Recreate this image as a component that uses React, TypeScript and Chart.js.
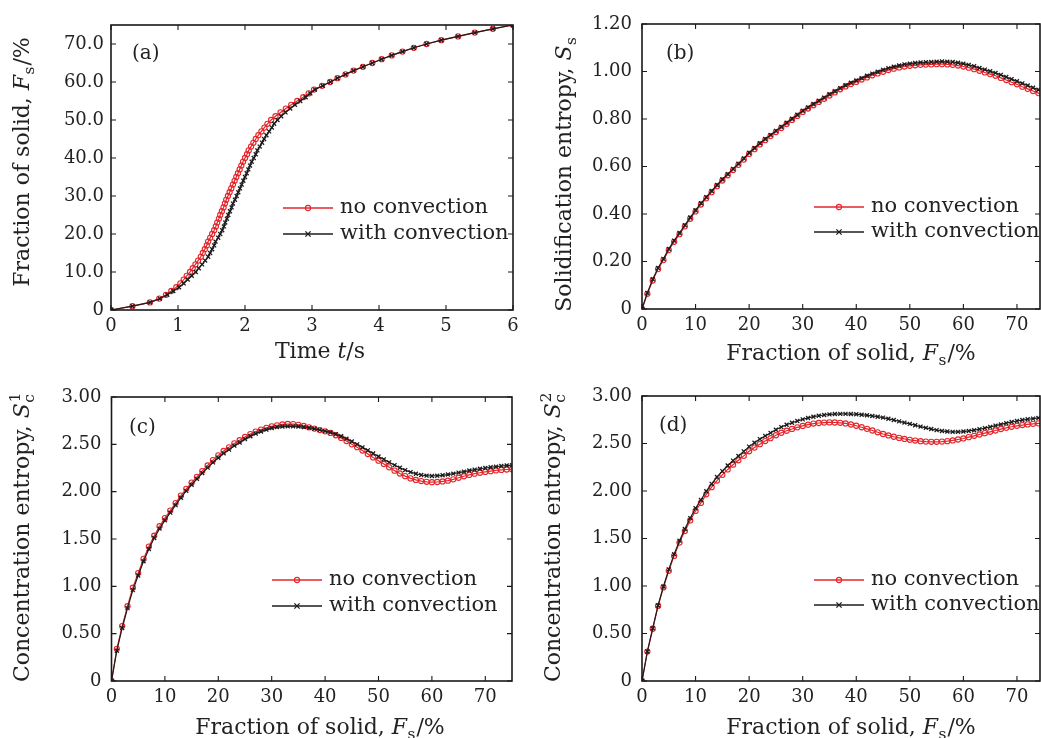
import { useEffect, useRef } from 'react';
import { Chart, registerables } from 'chart.js';

Chart.register(...registerables);

const FONT = '"DejaVu Serif", "Liberation Serif", serif';
const RED = '#e3262b';
const BLACK = '#1c1c1c';
const FRAME = '#1a1a1a';
const TEXT = '#222222';

// ---------- data ----------
const FS = [0, 1, 2, 3, 4, 5, 6, 7, 8, 9, 10, 11, 12, 13, 14, 15, 16, 17, 18, 19, 20, 21, 22, 23, 24, 25, 26, 27, 28, 29, 30, 31, 32, 33, 34, 35, 36, 37, 38, 39, 40, 41, 42, 43, 44, 45, 46, 47, 48, 49, 50, 51, 52, 53, 54, 55, 56, 57, 58, 59, 60, 61, 62, 63, 64, 65, 66, 67, 68, 69, 70, 71, 72, 73, 74, 75];

const T_NO = [0, 0.32, 0.58, 0.72, 0.82, 0.9, 0.975, 1.035, 1.085, 1.13,
  1.18, 1.22, 1.26, 1.3, 1.34, 1.37, 1.4, 1.43, 1.45, 1.48,
  1.51, 1.54, 1.565, 1.585, 1.61, 1.63, 1.655, 1.68, 1.7, 1.72,
  1.745, 1.77, 1.795, 1.82, 1.845, 1.87, 1.895, 1.92, 1.945, 1.97,
  2.0, 2.03, 2.055, 2.09, 2.125, 2.16, 2.2, 2.245, 2.29, 2.335,
  2.39, 2.455, 2.53, 2.61, 2.69, 2.78, 2.87, 2.95, 3.03, 3.15,
  3.27, 3.38, 3.5, 3.62, 3.76, 3.9, 4.04, 4.19, 4.35, 4.52,
  4.71, 4.93, 5.18, 5.43, 5.7, 6.0];

const T_WITH = [0, 0.32, 0.585, 0.73, 0.84, 0.93, 1.015, 1.085, 1.145, 1.205,
  1.265, 1.31, 1.36, 1.405, 1.45, 1.48, 1.51, 1.54, 1.56, 1.6,
  1.63, 1.66, 1.685, 1.705, 1.73, 1.75, 1.775, 1.8, 1.82, 1.85,
  1.875, 1.9, 1.925, 1.95, 1.975, 2.0, 2.025, 2.05, 2.075, 2.1,
  2.13, 2.16, 2.185, 2.22, 2.255, 2.285, 2.32, 2.36, 2.4, 2.435,
  2.485, 2.54, 2.605, 2.675, 2.745, 2.825, 2.905, 2.975, 3.045, 3.16,
  3.275, 3.38, 3.5, 3.62, 3.76, 3.9, 4.04, 4.19, 4.35, 4.52,
  4.71, 4.93, 5.18, 5.43, 5.7, 6.0];

const SS_NO = [0, 0.064, 0.12, 0.168, 0.206, 0.248, 0.283, 0.315, 0.348, 0.38,
  0.411, 0.44, 0.466, 0.492, 0.517, 0.541, 0.563, 0.585, 0.607, 0.629,
  0.653, 0.673, 0.693, 0.711, 0.728, 0.745, 0.762, 0.779, 0.796, 0.813,
  0.83, 0.844, 0.858, 0.872, 0.885, 0.899, 0.912, 0.925, 0.937, 0.947,
  0.956, 0.966, 0.975, 0.984, 0.992, 0.999, 1.006, 1.012, 1.017, 1.021,
  1.024, 1.026, 1.028, 1.029, 1.03, 1.031, 1.031, 1.03, 1.028, 1.025,
  1.021, 1.016, 1.01, 1.003, 0.996, 0.989, 0.982, 0.973, 0.964, 0.955,
  0.946, 0.936, 0.927, 0.918, 0.909, 0.9];

const SS_WITH = [0, 0.068, 0.125, 0.173, 0.211, 0.253, 0.288, 0.32, 0.353, 0.385,
  0.416, 0.445, 0.471, 0.497, 0.522, 0.546, 0.568, 0.59, 0.612, 0.634,
  0.658, 0.678, 0.698, 0.716, 0.733, 0.75, 0.767, 0.784, 0.801, 0.818,
  0.835, 0.849, 0.863, 0.877, 0.89, 0.904, 0.917, 0.93, 0.942, 0.953,
  0.962, 0.972, 0.982, 0.991, 0.999, 1.007, 1.014, 1.02, 1.025, 1.03,
  1.033, 1.036, 1.038, 1.039, 1.04, 1.041, 1.042, 1.041, 1.04, 1.037,
  1.033, 1.028, 1.022, 1.015, 1.008, 1.001, 0.994, 0.986, 0.977, 0.968,
  0.959, 0.95, 0.941, 0.932, 0.923, 0.915];

const SC1_NO = [0, 0.34, 0.58, 0.79, 0.985, 1.14, 1.29, 1.42, 1.535, 1.635,
  1.72, 1.8, 1.88, 1.958, 2.03, 2.095, 2.157, 2.218, 2.277, 2.333,
  2.383, 2.43, 2.468, 2.51, 2.543, 2.578, 2.608, 2.634, 2.655, 2.674,
  2.69, 2.7, 2.71, 2.715, 2.713, 2.706, 2.694, 2.68, 2.666, 2.651,
  2.637, 2.62, 2.596, 2.568, 2.535, 2.5, 2.47, 2.435, 2.398, 2.362,
  2.327, 2.292, 2.257, 2.222, 2.192, 2.164, 2.14, 2.124, 2.112, 2.104,
  2.1, 2.102, 2.108, 2.116, 2.13, 2.147, 2.163, 2.177, 2.19, 2.2,
  2.209, 2.216, 2.224, 2.23, 2.234, 2.238];

const SC1_WITH = [0, 0.32, 0.56, 0.77, 0.96, 1.115, 1.265, 1.395, 1.51, 1.61,
  1.697, 1.778, 1.858, 1.936, 2.008, 2.073, 2.135, 2.196, 2.254, 2.309,
  2.358, 2.405, 2.444, 2.486, 2.52, 2.555, 2.586, 2.613, 2.635, 2.655,
  2.672, 2.682, 2.688, 2.69, 2.69, 2.688, 2.683, 2.675, 2.665, 2.653,
  2.64, 2.626, 2.608, 2.586, 2.56, 2.53, 2.5, 2.468, 2.436, 2.403,
  2.372, 2.341, 2.31, 2.28, 2.253, 2.228, 2.206, 2.189, 2.176, 2.169,
  2.166, 2.168, 2.173, 2.181, 2.19, 2.201, 2.212, 2.223, 2.233, 2.242,
  2.25, 2.258, 2.265, 2.271, 2.276, 2.28];

const SC2_NO = [0, 0.31, 0.55, 0.79, 0.985, 1.16, 1.317, 1.457, 1.578, 1.69,
  1.79, 1.875, 1.965, 2.04, 2.11, 2.17, 2.227, 2.277, 2.323, 2.37,
  2.418, 2.457, 2.493, 2.526, 2.556, 2.587, 2.613, 2.634, 2.653, 2.67,
  2.685, 2.698, 2.71, 2.716, 2.72, 2.722, 2.721, 2.718, 2.711, 2.7,
  2.687, 2.671, 2.654, 2.637, 2.618, 2.6, 2.585, 2.571, 2.559, 2.548,
  2.539, 2.531, 2.524, 2.52, 2.518, 2.518, 2.52, 2.525, 2.532, 2.542,
  2.553, 2.567, 2.581, 2.595, 2.609, 2.623, 2.637, 2.652, 2.665, 2.676,
  2.686, 2.694, 2.701, 2.707, 2.712, 2.716];

const SC2_WITH = [0, 0.31, 0.555, 0.795, 0.995, 1.175, 1.335, 1.477, 1.6, 1.715,
  1.818, 1.905, 1.997, 2.075, 2.147, 2.209, 2.268, 2.32, 2.368, 2.417,
  2.467, 2.508, 2.546, 2.58, 2.612, 2.645, 2.673, 2.697, 2.718, 2.737,
  2.754, 2.769, 2.782, 2.792, 2.8, 2.806, 2.81, 2.812, 2.812, 2.81,
  2.808, 2.803, 2.797, 2.79, 2.782, 2.773, 2.76, 2.747, 2.733, 2.72,
  2.706, 2.692, 2.678, 2.665, 2.652, 2.641, 2.632, 2.626, 2.623, 2.623,
  2.626, 2.632, 2.64, 2.65, 2.662, 2.675, 2.688, 2.701, 2.714, 2.726,
  2.737, 2.747, 2.755, 2.762, 2.769, 2.775];

// ---------- ticks & labels ----------
const TIME_TICKS = [0, 1, 2, 3, 4, 5, 6];
const TIME_LABELS = ['0', '1', '2', '3', '4', '5', '6'];
const FS_TICKS = [0, 10, 20, 30, 40, 50, 60, 70];
const FS_LABELS = ['0', '10', '20', '30', '40', '50', '60', '70'];
const A_Y_TICKS = [0, 10, 20, 30, 40, 50, 60, 70];
const A_Y_LABELS = ['0', '10.0', '20.0', '30.0', '40.0', '50.0', '60.0', '70.0'];
const B_Y_TICKS = [0, 0.2, 0.4, 0.6, 0.8, 1.0, 1.2];
const B_Y_LABELS = ['0', '0.20', '0.40', '0.60', '0.80', '1.00', '1.20'];
const C_Y_TICKS = [0, 0.5, 1.0, 1.5, 2.0, 2.5, 3.0];
const C_Y_LABELS = ['0', '0.50', '1.00', '1.50', '2.00', '2.50', '3.00'];

const SERIES_LABELS = ['no convection', 'with convection'];
const PANEL_TAGS = ['(a)', '(b)', '(c)', '(d)'];

type Seg = { t: string; it?: boolean; sub?: string; sup?: string };
const TIME_TITLE: Seg[] = [{ t: 'Time ' }, { t: 't', it: true }, { t: '/s' }];
const FS_TITLE: Seg[] = [{ t: 'Fraction of solid, ' }, { t: 'F', it: true, sub: 's' }, { t: '/%' }];
const SS_TITLE: Seg[] = [{ t: 'Solidification entropy, ' }, { t: 'S', it: true, sub: 's' }];
const SC1_TITLE: Seg[] = [{ t: 'Concentration entropy, ' }, { t: 'S', it: true, sub: 'c', sup: '1' }];
const SC2_TITLE: Seg[] = [{ t: 'Concentration entropy, ' }, { t: 'S', it: true, sub: 'c', sup: '2' }];

// ---------- layout (page coordinates) ----------
type Panel = {
  box: { x: number; y: number; w: number; h: number };
  area: { l: number; t: number; r: number; b: number };
  xMin: number; xMax: number; yMin: number; yMax: number;
  xTicks: number[]; xLabels: string[]; yTicks: number[]; yLabels: string[];
  yPad: number;
  seriesX: number[][]; seriesY: number[][];
  xTitle: Seg[]; xTitleCx: number; xTitleBase: number;
  yTitle: Seg[]; yTitleCy: number; yTitleBase: number;
  legendX: number; legendY: number; legendGap: number;
  tag: string; tagX: number; tagBase: number;
};

const PANELS: Panel[] = [
  {
    box: { x: 0, y: 0, w: 530, h: 372 }, area: { l: 111, t: 25, r: 513, b: 310 },
    xMin: 0, xMax: 6, yMin: 0, yMax: 75,
    xTicks: TIME_TICKS, xLabels: TIME_LABELS, yTicks: A_Y_TICKS, yLabels: A_Y_LABELS, yPad: 7,
    seriesX: [T_NO, T_WITH], seriesY: [FS, FS],
    xTitle: TIME_TITLE, xTitleCx: 320, xTitleBase: 358,
    yTitle: FS_TITLE, yTitleCy: 162, yTitleBase: 29,
    legendX: 283, legendY: 208, legendGap: 26,
    tag: PANEL_TAGS[0], tagX: 132, tagBase: 59,
  },
  {
    box: { x: 530, y: 0, w: 511, h: 372 }, area: { l: 642, t: 24, r: 1040, b: 309 },
    xMin: 0, xMax: 74.3, yMin: 0, yMax: 1.2,
    xTicks: FS_TICKS, xLabels: FS_LABELS, yTicks: B_Y_TICKS, yLabels: B_Y_LABELS, yPad: 10,
    seriesX: [FS, FS], seriesY: [SS_NO, SS_WITH],
    xTitle: FS_TITLE, xTitleCx: 851, xTitleBase: 360,
    yTitle: SS_TITLE, yTitleCy: 174, yTitleBase: 571,
    legendX: 814, legendY: 207, legendGap: 25,
    tag: PANEL_TAGS[1], tagX: 666, tagBase: 59,
  },
  {
    box: { x: 0, y: 372, w: 530, h: 366 }, area: { l: 111.5, t: 397, r: 512, b: 681 },
    xMin: 0, xMax: 75, yMin: 0, yMax: 3,
    xTicks: FS_TICKS, xLabels: FS_LABELS, yTicks: C_Y_TICKS, yLabels: C_Y_LABELS, yPad: 10,
    seriesX: [FS, FS], seriesY: [SC1_NO, SC1_WITH],
    xTitle: FS_TITLE, xTitleCx: 320, xTitleBase: 734,
    yTitle: SC1_TITLE, yTitleCy: 537, yTitleBase: 29,
    legendX: 272, legendY: 580, legendGap: 26,
    tag: PANEL_TAGS[2], tagX: 129, tagBase: 433,
  },
  {
    box: { x: 530, y: 372, w: 511, h: 366 }, area: { l: 642, t: 396, r: 1040, b: 681 },
    xMin: 0, xMax: 74.3, yMin: 0, yMax: 3,
    xTicks: FS_TICKS, xLabels: FS_LABELS, yTicks: C_Y_TICKS, yLabels: C_Y_LABELS, yPad: 10,
    seriesX: [FS, FS], seriesY: [SC2_NO, SC2_WITH],
    xTitle: FS_TITLE, xTitleCx: 851, xTitleBase: 734,
    yTitle: SC2_TITLE, yTitleCy: 537, yTitleBase: 560,
    legendX: 814, legendY: 580, legendGap: 25,
    tag: PANEL_TAGS[3], tagX: 659, tagBase: 431,
  },
];

const TICK_SIZE = 18;
const TITLE_SIZE = 22;
const LEGEND_SIZE = 21;
const TAG_SIZE = 20;

function segFont(size: number, it?: boolean) {
  return `${it ? 'italic ' : ''}${size}px ${FONT}`;
}

function richWidth(ctx: CanvasRenderingContext2D, segs: Seg[], size: number) {
  let w = 0;
  for (const s of segs) {
    ctx.font = segFont(size, s.it);
    w += ctx.measureText(s.t).width;
    if (s.sub || s.sup) {
      ctx.font = segFont(size * 0.7);
      const a = s.sub ? ctx.measureText(s.sub).width : 0;
      const b = s.sup ? ctx.measureText(s.sup).width : 0;
      w += Math.max(a, b) + 1.5;
    }
  }
  return w;
}

function drawRich(ctx: CanvasRenderingContext2D, segs: Seg[], size: number, x: number, y: number) {
  let cx = x;
  ctx.textAlign = 'left';
  ctx.textBaseline = 'alphabetic';
  for (const s of segs) {
    ctx.font = segFont(size, s.it);
    ctx.fillText(s.t, cx, y);
    cx += ctx.measureText(s.t).width;
    if (s.sub || s.sup) {
      ctx.font = segFont(size * 0.7);
      let w = 0;
      if (s.sub) {
        ctx.fillText(s.sub, cx + 0.5, y + size * 0.22);
        w = Math.max(w, ctx.measureText(s.sub).width);
      }
      if (s.sup) {
        ctx.fillText(s.sup, cx + 1, y - size * 0.42);
        w = Math.max(w, ctx.measureText(s.sup).width);
      }
      cx += w + 1.5;
    }
  }
}

function drawMarker(ctx: CanvasRenderingContext2D, kind: number, x: number, y: number) {
  ctx.beginPath();
  if (kind === 0) {
    ctx.strokeStyle = RED;
    ctx.lineWidth = 1.1;
    ctx.arc(x, y, 2.6, 0, Math.PI * 2);
  } else {
    ctx.strokeStyle = BLACK;
    ctx.lineWidth = 1.3;
    const r = 2.6;
    ctx.moveTo(x - r, y - r); ctx.lineTo(x + r, y + r);
    ctx.moveTo(x - r, y + r); ctx.lineTo(x + r, y - r);
  }
  ctx.stroke();
}

function makeDecor(p: Panel) {
  return {
    id: 'decor',
    afterDraw(chart: Chart) {
      const ctx = chart.ctx;
      const { left, top, right, bottom } = chart.chartArea;
      const xs = chart.scales.x;
      const ys = chart.scales.y;
      const ox = p.box.x;
      const oy = p.box.y;
      ctx.save();
      // inward ticks on all sides
      ctx.strokeStyle = FRAME;
      ctx.lineWidth = 1.1;
      ctx.beginPath();
      for (const v of p.xTicks) {
        const px = xs.getPixelForValue(v);
        ctx.moveTo(px, bottom); ctx.lineTo(px, bottom - 5);
        ctx.moveTo(px, top); ctx.lineTo(px, top + 5);
      }
      for (const v of p.yTicks) {
        const py = ys.getPixelForValue(v);
        ctx.moveTo(left, py); ctx.lineTo(left + 5, py);
        ctx.moveTo(right, py); ctx.lineTo(right - 5, py);
      }
      ctx.stroke();
      // frame
      ctx.lineWidth = 1.6;
      ctx.strokeRect(left, top, right - left, bottom - top);

      ctx.fillStyle = TEXT;
      // x title
      const xw = richWidth(ctx, p.xTitle, TITLE_SIZE);
      drawRich(ctx, p.xTitle, TITLE_SIZE, p.xTitleCx - ox - xw / 2, p.xTitleBase - oy);
      // y title (rotated)
      const yw = richWidth(ctx, p.yTitle, TITLE_SIZE);
      ctx.save();
      ctx.translate(p.yTitleBase - ox, p.yTitleCy - oy);
      ctx.rotate(-Math.PI / 2);
      drawRich(ctx, p.yTitle, TITLE_SIZE, -yw / 2, 0);
      ctx.restore();

      // panel tag
      ctx.fillStyle = TEXT;
      ctx.font = segFont(TAG_SIZE);
      ctx.textAlign = 'left';
      ctx.textBaseline = 'alphabetic';
      ctx.fillText(p.tag, p.tagX - ox, p.tagBase - oy);

      // legend
      chart.data.datasets.forEach((ds: any, i: number) => {
        const ly = p.legendY - oy + i * p.legendGap;
        const lx = p.legendX - ox;
        ctx.beginPath();
        ctx.strokeStyle = ds.borderColor;
        ctx.lineWidth = 1.3;
        ctx.moveTo(lx, ly); ctx.lineTo(lx + 50, ly);
        ctx.stroke();
        drawMarker(ctx, i, lx + 25, ly);
        ctx.fillStyle = TEXT;
        ctx.font = segFont(LEGEND_SIZE);
        ctx.textAlign = 'left';
        ctx.textBaseline = 'alphabetic';
        ctx.fillText(ds.label, lx + 57, ly + 5);
      });
      ctx.restore();
    },
  };
}

function buildChart(canvas: HTMLCanvasElement, p: Panel) {
  const datasets = [0, 1].map((i) => ({
    label: SERIES_LABELS[i],
    data: p.seriesX[i].map((x, k) => ({ x, y: p.seriesY[i][k] })),
    showLine: true,
    borderColor: i === 0 ? RED : BLACK,
    borderWidth: 1.2,
    pointStyle: i === 0 ? 'circle' : 'crossRot',
    pointRadius: i === 0 ? 2.6 : 2.8,
    pointBorderWidth: i === 0 ? 1.1 : 1.3,
    pointBorderColor: i === 0 ? RED : BLACK,
    pointBackgroundColor: i === 0 ? 'rgba(255,255,255,0)' : BLACK,
    pointHoverRadius: 0,
    order: i === 0 ? 1 : 0,
    tension: 0,
  }));
  return new Chart(canvas, {
    type: 'scatter',
    data: { datasets: datasets as any },
    plugins: [makeDecor(p) as any],
    options: {
      responsive: false,
      animation: false,
      devicePixelRatio: 1,
      events: [],
      layout: {
        autoPadding: false,
        padding: {
          left: 0,
          top: p.area.t - p.box.y,
          right: p.box.x + p.box.w - p.area.r,
          bottom: 0,
        },
      },
      plugins: { legend: { display: false }, tooltip: { enabled: false }, title: { display: false } },
      scales: {
        x: {
          type: 'linear',
          min: p.xMin,
          max: p.xMax,
          afterFit: (s: any) => { s.height = p.box.y + p.box.h - p.area.b; },
          afterBuildTicks: (s: any) => { s.ticks = p.xTicks.map((v) => ({ value: v })); },
          grid: { display: false, drawTicks: false },
          border: { display: false },
          ticks: {
            autoSkip: false,
            maxRotation: 0,
            minRotation: 0,
            padding: 6,
            color: TEXT,
            font: { family: FONT, size: TICK_SIZE },
            callback: (_v: any, idx: number) => p.xLabels[idx],
          },
        },
        y: {
          type: 'linear',
          min: p.yMin,
          max: p.yMax,
          afterFit: (s: any) => { s.width = p.area.l - p.box.x; },
          afterBuildTicks: (s: any) => { s.ticks = p.yTicks.map((v) => ({ value: v })); },
          grid: { display: false, drawTicks: false },
          border: { display: false },
          ticks: {
            autoSkip: false,
            padding: p.yPad,
            color: TEXT,
            font: { family: FONT, size: TICK_SIZE },
            callback: (_v: any, idx: number) => p.yLabels[idx],
          },
        },
      },
    } as any,
  });
}

export default function App() {
  const refs = useRef<(HTMLCanvasElement | null)[]>([]);
  useEffect(() => {
    const charts = PANELS.map((p, i) => buildChart(refs.current[i] as HTMLCanvasElement, p));
    return () => charts.forEach((c) => c.destroy());
  }, []);
  return (
    <div
      style={{
        position: 'fixed', left: 0, top: 0, width: 1041, height: 738,
        overflow: 'hidden', background: '#ffffff',
      }}
    >
      {PANELS.map((p, i) => (
        <canvas
          key={i}
          ref={(el) => { refs.current[i] = el; }}
          width={p.box.w}
          height={p.box.h}
          style={{ position: 'absolute', left: p.box.x, top: p.box.y, width: p.box.w, height: p.box.h }}
        />
      ))}
    </div>
  );
}
